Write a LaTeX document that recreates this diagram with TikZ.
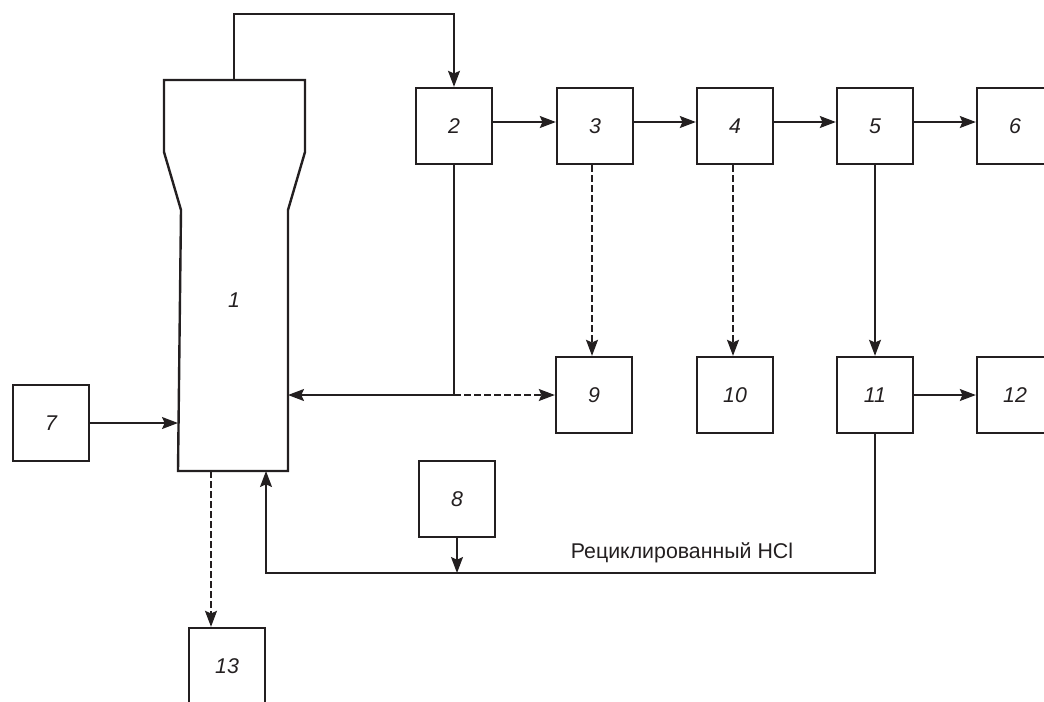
\documentclass[tikz,border=0pt]{standalone}
\usepackage{fontspec}
\setmainfont{Liberation Sans}
\usetikzlibrary{arrows.meta,calc}
\definecolor{ink}{HTML}{231F20}
\tikzset{
  box/.style={draw=ink,line width=1.8pt,minimum width=57pt,minimum height=57pt,inner sep=0pt,font=\fontsize{16}{17}\selectfont\itshape,text=ink},
  flow/.style={draw=ink,line width=1pt,-{Stealth[length=12pt,width=9pt,inset=2pt]}},
  line/.style={draw=ink,line width=1pt},
  dflow/.style={flow,dash pattern=on 5pt off 2.5pt},
  dline/.style={line,dash pattern=on 5pt off 2.5pt},
}
\begin{document}
\begin{tikzpicture}[x=0.75pt,y=-0.75pt]
\useasboundingbox (0,0) rectangle (1044,701);
\clip (0,0) rectangle (1044,701);
% column 1
\draw[ink,line width=1.8pt,line join=miter] (164,80) -- (305,80) -- (305,152) -- (288,210) -- (288,471) -- (178,471) -- (181,210) -- (164,152) -- cycle;
\node[font=\fontsize{16}{17}\selectfont\itshape,text=ink] (l1) at (234,300) {1};
\coordinate (c1top) at (234,80);
\coordinate (c1left) at (178,423);
\coordinate (c1right) at (288,395);
\coordinate (c1bA) at (211,471);
\coordinate (c1bB) at (266,471);
% boxes
\node[box] (b2) at (454,126) {2};
\node[box] (b3) at (595,126) {3};
\node[box] (b4) at (735,126) {4};
\node[box] (b5) at (875,126) {5};
\node[box] (b6) at (1015,126) {6};
\node[box] (b9) at (594,395) {9};
\node[box] (b10) at (735,395) {10};
\node[box] (b11) at (875,395) {11};
\node[box] (b12) at (1015,395) {12};
\node[box] (b7) at (51,423) {7};
\node[box] (b8) at (457,499) {8};
\node[box] (b13) at (227,666) {13};
% top connector
\coordinate (t1) at (234,14);
\coordinate (t2) at (454,14);
\draw[flow] (c1top) -- (t1) -- (t2) -- (b2.north);
% horizontal chain
\draw[flow] ([yshift=3pt]b2.east) -- ([yshift=3pt]b3.west);
\draw[flow] ([yshift=3pt]b3.east) -- ([yshift=3pt]b4.west);
\draw[flow] ([yshift=3pt]b4.east) -- ([yshift=3pt]b5.west);
\draw[flow] ([yshift=3pt]b5.east) -- ([yshift=3pt]b6.west);
% verticals
\draw[dflow] ([xshift=-2.25pt]b3.south) -- ([xshift=-2.25pt]b3.south |- b9.north);
\draw[dflow] ([xshift=-1.5pt]b4.south) -- ([xshift=-1.5pt]b4.south |- b10.north);
\draw[flow] (b5.south) -- (b11.north);
\draw[flow] (b11.east) -- (b12.west);
% box 2 return
\coordinate (j) at (454,395);
\draw[flow] (b2.south) -- (j) -- (c1right);
\draw[dflow] (j) -- (b9.west);
% feed 7
\draw[flow] (b7.east) -- (c1left);
% bottom
\draw[dflow] (c1bA) -- (c1bA |- b13.north);
\coordinate (r1) at (875,573);
\coordinate (r2) at (266,573);
\coordinate (m) at (457,573);
\draw[flow] (b11.south) -- (r1) -- (r2) -- (c1bB);
\draw[flow] (b8.south) -- (m);
\node[text=ink,font=\fontsize{16}{18}\selectfont] (lab) at (682,553) {Рециклированный HCl};
\end{tikzpicture}
\end{document}
